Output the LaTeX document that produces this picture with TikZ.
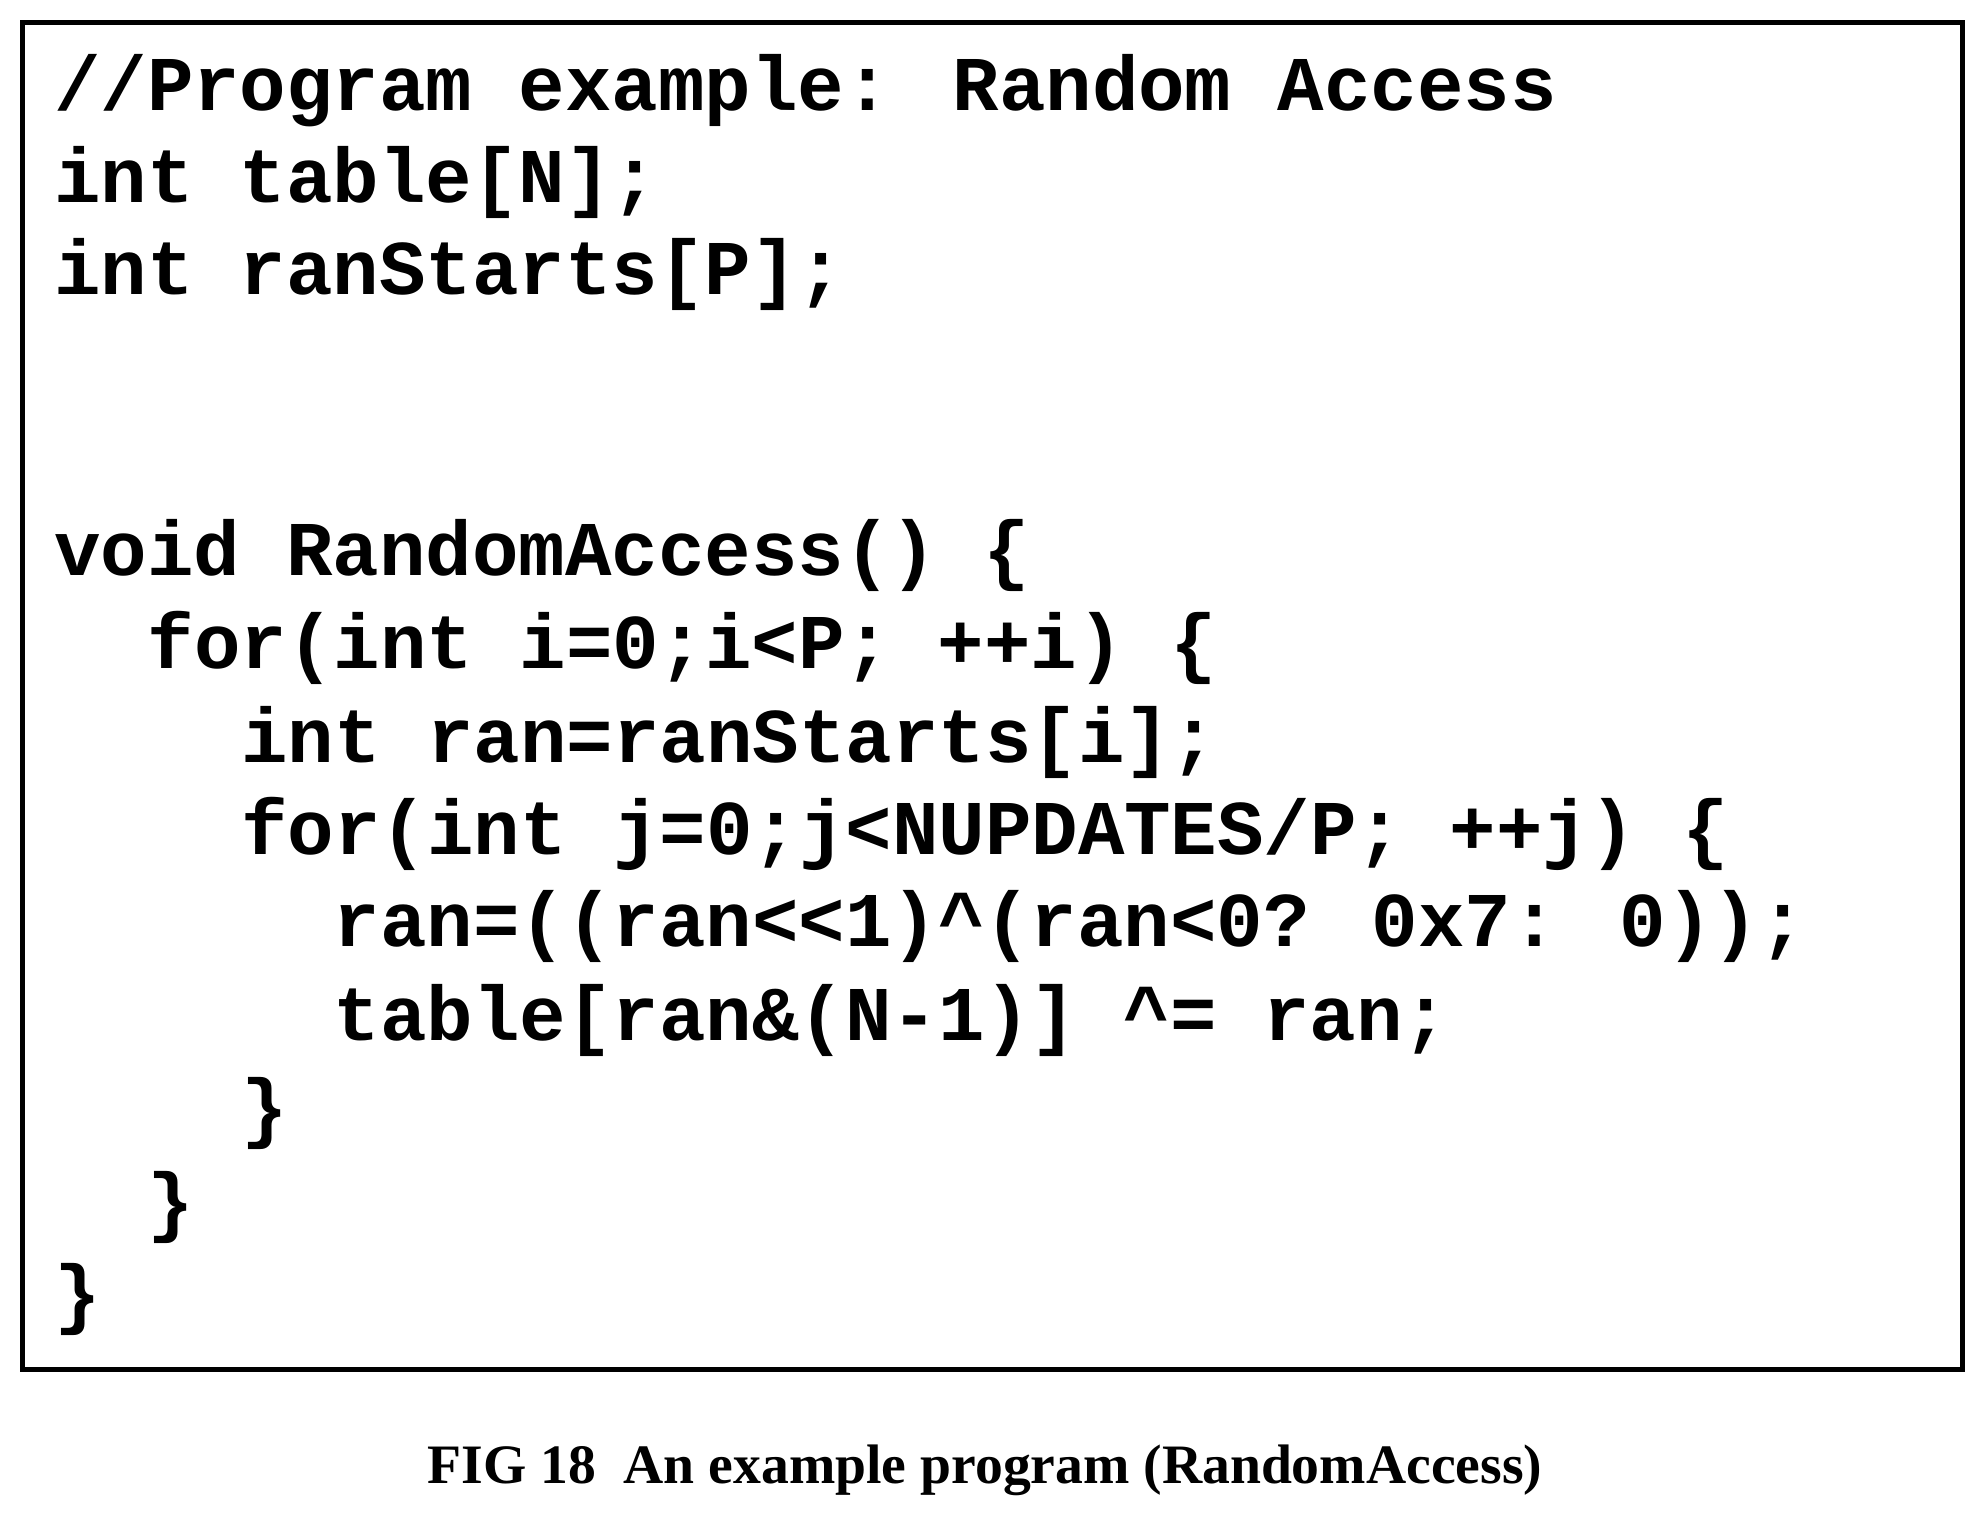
\documentclass[tikz,border=0pt]{standalone}
\usepackage{fontspec}
\newfontfamily\codefont{Liberation Mono}[Scale=1.0]
\newfontfamily\capfont{Liberation Serif}

\begin{document}
\begin{tikzpicture}[x=0.01cm, y=-0.01cm]
    \tikzstyle{every node}=[inner sep=0pt, anchor=base west, font=\codefont\bfseries\fontsize{17.4}{20}\selectfont, text=black]
    \useasboundingbox (0,0) rectangle (1568,1198);

    \draw[line width=0.04cm] (18,18) rectangle (1550,1082);

    \node (l1) at (42,87) {//Program example: Random Access};
    \node (l2) at (42,160) {int table[N];};
    \node (l3) at (42,233) {int ranStarts[P];};
    \node (l4) at (42,455) {void RandomAccess() \{};
    \node (l5) at (116,528) {for(int i=0;i<P; ++i) \{};
    \node (l6) at (190,602) {int ran=ranStarts[i];};
    \node (l7) at (190,675) {for(int j=0;j<NUPDATES/P; ++j) \{};
    \node (l8) at (263,748) {ran=((ran<<1)\textasciicircum(ran<0? 0x7: 0));};
    \node (l9) at (263,822) {table[ran\&(N-1)] \textasciicircum= ran;};
    \node (l10) at (190,895) {\}};
    \node (l11) at (116,970) {\}};
    \node (l12) at (42,1042) {\}};

    \tikzstyle{every node}=[inner sep=0pt, anchor=base, font=\capfont\bfseries\fontsize{12.5}{15}\selectfont]
    \node (cap) at (778,1172) {FIG 18\enspace An example program (RandomAccess)};
\end{tikzpicture}
\end{document}
